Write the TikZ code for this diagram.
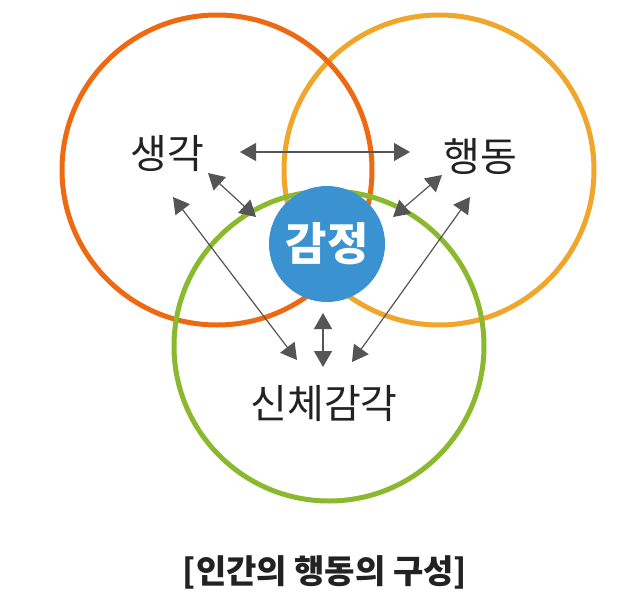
\documentclass[tikz,border=0pt]{standalone}
\usepackage{fontspec}
\newfontfamily\kr{Noto Sans CJK KR}
\usetikzlibrary{arrows.meta}
\definecolor{cred}{HTML}{EE6A12}
\definecolor{corange}{HTML}{F0A62A}
\definecolor{cgreen}{HTML}{8AB92D}
\definecolor{cblue}{HTML}{3A93D0}
\definecolor{cgray}{HTML}{555555}
\definecolor{ctext}{HTML}{222222}
\begin{document}
\begin{tikzpicture}[x=1pt,y=-1pt,
  ring/.style={line width=5pt},
  label/.style={font=\kr\fontsize{40}{44}\selectfont, text=ctext, inner sep=0pt},
  link/.style={cgray, line width=1.2pt, {Triangle[length=16pt,width=18pt]}-{Triangle[length=16pt,width=18pt]}}]
\useasboundingbox[fill=white] (0,0) rectangle (641,600);
\draw[ring, corange] (439,170) circle (155);
\draw[ring, cred] (217,170) circle (155);
\draw[ring, cgreen] (329,346) circle (155);
\node[circle, fill=cblue, minimum size=116pt, inner sep=0pt] (emo) at (327,244) {};
\node[font=\kr\bfseries\fontsize{45}{48}\selectfont, text=white, inner sep=0pt] at (emo) {감정};
\node[label] (think) at (167,154) {생각};
\node[label] (act) at (480,156) {행동};
\node[label] (body) at (324,404) {신체감각};
\node[font=\kr\bfseries\fontsize{33}{36}\selectfont, text=ctext, inner sep=0pt] (cap) at (325,572) {[인간의 행동의 구성]};
\coordinate (a1) at (240,152); \coordinate (b1) at (410,152);
\coordinate (a2) at (208,173); \coordinate (b2) at (256,217);
\coordinate (a3) at (442,175); \coordinate (b3) at (393,217);
\coordinate (a4) at (173,197); \coordinate (b4) at (297,360);
\coordinate (a5) at (470,197); \coordinate (b5) at (352,362);
\coordinate (a6) at (323,313); \coordinate (b6) at (323,367);
\draw[link] (a1) -- (b1);
\draw[link] (a2) -- (b2);
\draw[link] (a3) -- (b3);
\draw[link] (a4) -- (b4);
\draw[link] (a5) -- (b5);
\draw[link] (a6) -- (b6);
\end{tikzpicture}
\end{document}
